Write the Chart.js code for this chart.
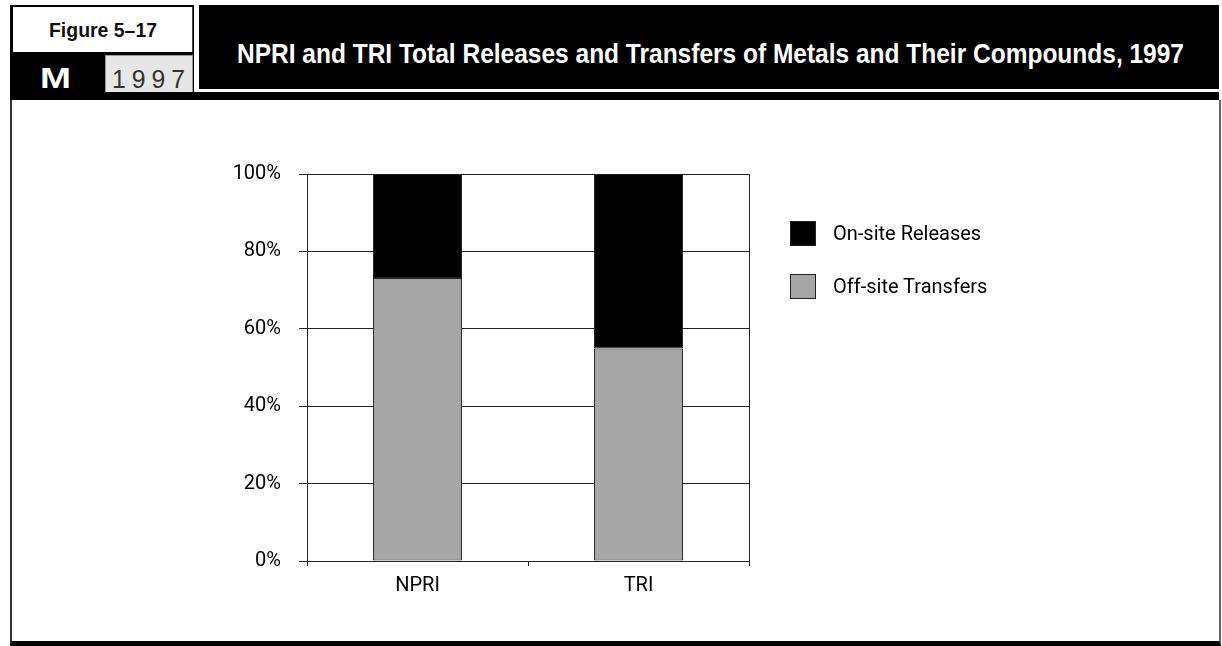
<!DOCTYPE html>
<html>
<head>
<meta charset="utf-8">
<script src="https://cdn.jsdelivr.net/npm/chart.js@4/dist/chart.umd.min.js"></script>
<style>
  html, body { margin: 0; padding: 0; background: #fff; width: 1222px; height: 646px; overflow: hidden; }
  body { font-family: Roboto, "Liberation Sans", sans-serif; }
  #page { position: relative; width: 1222px; height: 646px; }
  .abs { position: absolute; box-sizing: border-box; }
  .fit { display: inline-block; white-space: nowrap; transform-origin: 0 50%; }
  #leftBlock { left: 10px; top: 5px; width: 184px; height: 95px; background: #000; }
  #figBox { left: 13px; top: 7px; width: 180px; height: 45px; background: #fff; border-right: 1px solid #444; }
  #figText { position: absolute; left: 49px; top: 18px; font-family: "Liberation Sans", sans-serif;
             font-weight: bold; font-size: 20px; line-height: 24px; color: #111; }
  #letter { position: absolute; left: 40px; top: 61px; color: #fff;
            font-family: "Liberation Sans", sans-serif; font-weight: bold; font-size: 29px; line-height: 34px; }
  #yearBox { left: 105px; top: 55px; width: 88px; height: 41px; background: #e6e6e6; border: 1px solid #999; }
  #yearText { position: absolute; left: 112px; top: 64px; font-family: "Liberation Sans", sans-serif;
              font-size: 25px; line-height: 30px; color: #333; letter-spacing: 6px; }
  #titleBand { left: 199px; top: 5px; width: 1020px; height: 84px; background: #000; }
  #title { position: absolute; left: 237px; top: 37px; color: #fff; font-family: "Liberation Sans", sans-serif;
           font-weight: bold; font-size: 28px; line-height: 34px; }
  #rule { left: 10px; top: 92px; width: 1209px; height: 8px; background: #000; }
  #panel { left: 10px; top: 100px; width: 1211px; height: 546px; background: #fff;
           border-left: 2px solid #333; border-right: 2px solid #666; border-bottom: 5px solid #000; }
  #chartWrap { left: 200px; top: 140px; width: 600px; height: 480px; }
  #legend { left: 790px; top: 221px; }
  .item { position: relative; height: 52.5px; }
  .swatch { position: absolute; left: 0; top: 0; width: 26px; height: 25px; box-sizing: border-box; border: 1px solid #222; }
  .label { position: absolute; left: 43px; top: -1px; font-size: 20px; line-height: 26px; color: #000; white-space: nowrap; }
</style>
</head>
<body>
<div id="page">
  <div class="abs" id="leftBlock"></div>
  <div class="abs" id="figBox"></div>
  <span class="fit" id="figText" data-w="108">Figure 5–17</span>
  <span class="fit" id="letter" data-w="31">M</span>
  <div class="abs" id="yearBox"></div>
  <span class="fit" id="yearText" data-w="79">1997</span>
  <div class="abs" id="titleBand"></div>
  <span class="fit" id="title" data-w="947">NPRI and TRI Total Releases and Transfers of Metals and Their Compounds, 1997</span>
  <div class="abs" id="rule"></div>
  <div class="abs" id="panel"></div>
  <div class="abs" id="chartWrap"><canvas id="chart" width="600" height="480"></canvas></div>
  <div class="abs" id="legend"></div>
</div>
<script>
// Inventories compared
const categories = ['NPRI', 'TRI'];
// Share of total releases and transfers (%)
const offSiteTransfers = [73.1, 54.9];
const onSiteReleases = [26.9, 45.1];
// Y-axis ticks (%)
const yTicks = [0, 20, 40, 60, 80, 100];

const seriesNames = ['Off-site Transfers', 'On-site Releases'];
const seriesColors = ['#a6a6a6', '#000000'];
const seriesValues = [offSiteTransfers, onSiteReleases];

const FONT = 'Roboto, "Liberation Sans", sans-serif';
const INK = '#222';

// Squeeze header text horizontally to a condensed look
document.querySelectorAll('.fit').forEach(el => {
  const w = el.getBoundingClientRect().width;
  const target = parseFloat(el.dataset.w);
  el.style.transform = 'scaleX(' + (target / w) + ')';
});

const datasets = seriesNames.map((name, i) => ({
  label: name,
  data: seriesValues[i],
  backgroundColor: seriesColors[i],
  borderColor: INK,
  borderWidth: 1,
  borderSkipped: false,
  categoryPercentage: 1,
  barPercentage: 0.403
}));

new Chart(document.getElementById('chart'), {
  type: 'bar',
  data: { labels: categories, datasets },
  options: {
    responsive: false,
    animation: false,
    layout: { padding: { left: 0, top: 34, right: 51, bottom: 0 } },
    plugins: { legend: { display: false }, tooltip: { enabled: false } },
    scales: {
      x: {
        stacked: true,
        afterFit: s => { s.height = 59; },
        border: { display: true, color: INK, width: 1 },
        grid: {
          offset: true,
          drawOnChartArea: true,
          color: c => (c.index === 1 ? 'rgba(0,0,0,0)' : INK),
          tickColor: INK,
          tickLength: 5,
          lineWidth: 1
        },
        ticks: { color: '#000', font: { family: FONT, size: 20 }, padding: 8 }
      },
      y: {
        stacked: true,
        min: yTicks[0],
        max: yTicks[yTicks.length - 1],
        afterFit: s => { s.width = 107; },
        afterBuildTicks: s => { s.ticks = yTicks.map(v => ({ value: v })); },
        border: { display: true, color: INK, width: 1 },
        grid: { color: INK, tickColor: INK, tickLength: 8, lineWidth: 1 },
        ticks: {
          color: '#000',
          font: { family: FONT, size: 20 },
          padding: 18,
          callback: v => v + '%'
        }
      }
    }
  }
});

// Legend: releases listed first, as stacked top-down
const legend = document.getElementById('legend');
[1, 0].forEach(i => {
  const item = document.createElement('div');
  item.className = 'item';
  const sw = document.createElement('div');
  sw.className = 'swatch';
  sw.style.background = seriesColors[i];
  const lb = document.createElement('div');
  lb.className = 'label';
  lb.textContent = seriesNames[i];
  item.appendChild(sw);
  item.appendChild(lb);
  legend.appendChild(item);
});
</script>
</body>
</html>
